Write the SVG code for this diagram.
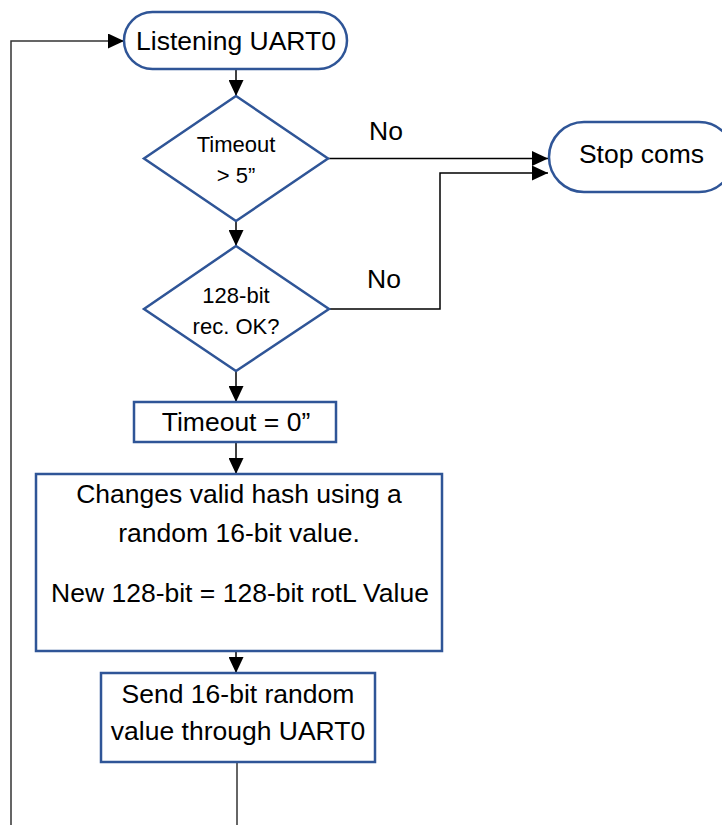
<svg xmlns="http://www.w3.org/2000/svg" width="722" height="825" viewBox="0 0 722 825">
<style>
.shape{fill:#fff;stroke:#2F5597;stroke-width:2.5}
.t{font-family:"Liberation Sans",Arial,sans-serif;fill:#000;text-anchor:middle}
.big{font-size:26.5px}
.sm{font-size:22px}
.conn{fill:none;stroke:#000;stroke-width:1.5}
</style>
<defs>
<marker id="arr" markerUnits="userSpaceOnUse" markerWidth="16" markerHeight="15" refX="16" refY="7.5" orient="auto">
<path d="M0,0 L16,7.5 L0,15 Z" fill="#000"/>
</marker>
</defs>
<rect width="722" height="825" fill="#fff"/>
<g id="connectors">
<path class="conn" d="M236,69 V96" marker-end="url(#arr)"/>
<path class="conn" d="M328,158.5 H548" marker-end="url(#arr)"/>
<path class="conn" d="M236,221 V246" marker-end="url(#arr)"/>
<path class="conn" d="M329,309 H440 V173 H548" marker-end="url(#arr)"/>
<path class="conn" d="M236,371 V402" marker-end="url(#arr)"/>
<path class="conn" d="M236,442 V474" marker-end="url(#arr)"/>
<path class="conn" d="M236,651 V673" marker-end="url(#arr)"/>
<path class="conn" d="M237,762 V825" style="stroke:#333"/>
<path class="conn" d="M11,825 V41 H124" style="stroke:#333" marker-end="url(#arr)"/>
<text class="t big" x="386" y="140">No</text>
<text class="t big" x="384" y="288">No</text>
</g>
<g id="listening">
<rect class="shape" x="124" y="12" width="223" height="57" rx="28.5"/>
<text class="t big" x="236" y="50">Listening UART0</text>
</g>
<g id="timeout-check">
<polygon class="shape" points="236,96 328,158.5 236,221 144,158.5"/>
<text class="t sm" x="236" y="152">Timeout</text>
<text class="t sm" x="236" y="183">&gt; 5”</text>
</g>
<g id="stop">
<rect class="shape" x="549" y="122" width="185" height="70" rx="35"/>
<text class="t big" x="641.5" y="163">Stop coms</text>
</g>
<g id="rec-check">
<polygon class="shape" points="236,246 329,309 236,371 144,309"/>
<text class="t sm" x="236" y="303">128-bit</text>
<text class="t sm" x="236" y="334">rec. OK?</text>
</g>
<g id="timeout-reset">
<rect class="shape" x="134" y="402" width="202" height="40"/>
<text class="t big" x="236" y="431">Timeout = 0”</text>
</g>
<g id="change-hash">
<rect class="shape" x="36" y="474" width="406" height="177"/>
<text class="t big" x="239" y="503">Changes valid hash using a</text>
<text class="t big" x="239" y="542">random 16-bit value.</text>
<text class="t big" x="240" y="602">New 128-bit = 128-bit rotL Value</text>
</g>
<g id="send">
<rect class="shape" x="101" y="673" width="274" height="89"/>
<text class="t big" x="238" y="703">Send 16-bit random</text>
<text class="t big" x="238" y="740">value through UART0</text>
</g>
</svg>
